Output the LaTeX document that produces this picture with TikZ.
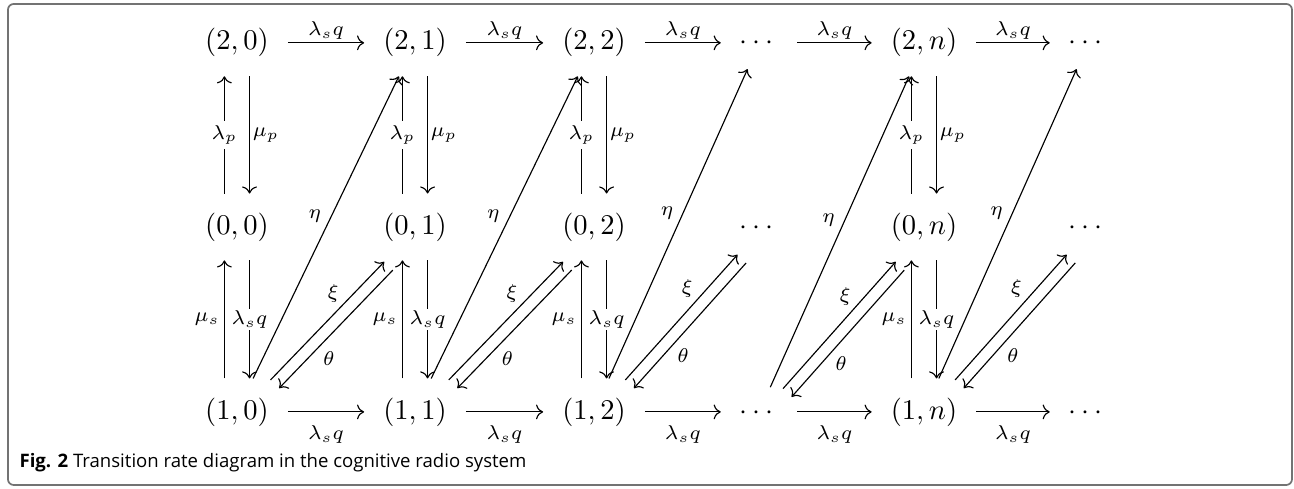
\documentclass[tikz,border=0pt]{standalone}
\usepackage{amsmath,amssymb}
\usepackage{fontspec}
\newfontfamily\capfont{Open Sans}
\usetikzlibrary{arrows.meta}

\begin{document}
\begin{tikzpicture}[
  st/.style={anchor=base, inner sep=6.5pt},
  arr/.style={-{Computer Modern Rightarrow}, line width=0.4pt},
  lbl/.style={font=\scriptsize, inner sep=1pt},
  desc/.style={lbl, fill=white}
]
\useasboundingbox (0,0) rectangle (15.918,6.015);

% Frame
\draw[black!55, line width=0.6pt, rounded corners=2pt] (0.098,0.049) rectangle (15.893,5.966);

% States (2,j)
\node[st] (s20) at (2.915,5.40) {$(2,0)$};
\node[st] (s21) at (5.105,5.40) {$(2,1)$};
\node[st] (s22) at (7.307,5.40) {$(2,2)$};
\node[st] (s2d) at (9.336,5.40) {$\cdots$};
\node[st] (s2n) at (11.366,5.40) {$(2,n)$};
\node[st] (s2e) at (13.383,5.40) {$\cdots$};

% States (0,j)
\node[st] (s00) at (2.915,3.135) {$(0,0)$};
\node[st] (s01) at (5.105,3.135) {$(0,1)$};
\node[st] (s02) at (7.307,3.135) {$(0,2)$};
\node[st] (s0d) at (9.336,3.135) {$\cdots$};
\node[st] (s0n) at (11.366,3.135) {$(0,n)$};
\node[st] (s0e) at (13.383,3.135) {$\cdots$};

% States (1,j)
\node[st] (s10) at (2.915,0.86) {$(1,0)$};
\node[st] (s11) at (5.105,0.86) {$(1,1)$};
\node[st] (s12) at (7.307,0.86) {$(1,2)$};
\node[st] (s1d) at (9.336,0.86) {$\cdots$};
\node[st] (s1n) at (11.366,0.86) {$(1,n)$};
\node[st] (s1e) at (13.383,0.86) {$\cdots$};

% Caption
\node[anchor=base west, inner sep=0pt, font=\capfont\fontsize{6.5}{7.5}\selectfont] (cap) at (0.234,0.264)
  {\textbf{Fig. 2} Transition rate diagram in the cognitive radio system};

% Top row
\draw[arr] ([yshift=2.5pt]s20.base east) -- node[lbl, above] {$\lambda_s q$} ([yshift=2.5pt]s21.base west);
\draw[arr] ([yshift=2.5pt]s21.base east) -- node[lbl, above] {$\lambda_s q$} ([yshift=2.5pt]s22.base west);
\draw[arr] ([yshift=2.5pt]s22.base east) -- node[lbl, above] {$\lambda_s q$} ([yshift=2.5pt]s2d.base west);
\draw[arr] ([yshift=2.5pt]s2d.base east) -- node[lbl, above] {$\lambda_s q$} ([yshift=2.5pt]s2n.base west);
\draw[arr] ([yshift=2.5pt]s2n.base east) -- node[lbl, above] {$\lambda_s q$} ([yshift=2.5pt]s2e.base west);

% Bottom row
\draw[arr] ([yshift=2.5pt]s10.base east) -- node[lbl, below, inner sep=4.5pt] {$\lambda_s q$} ([yshift=2.5pt]s11.base west);
\draw[arr] ([yshift=2.5pt]s11.base east) -- node[lbl, below, inner sep=4.5pt] {$\lambda_s q$} ([yshift=2.5pt]s12.base west);
\draw[arr] ([yshift=2.5pt]s12.base east) -- node[lbl, below, inner sep=4.5pt] {$\lambda_s q$} ([yshift=2.5pt]s1d.base west);
\draw[arr] ([yshift=2.5pt]s1d.base east) -- node[lbl, below, inner sep=4.5pt] {$\lambda_s q$} ([yshift=2.5pt]s1n.base west);
\draw[arr] ([yshift=2.5pt]s1n.base east) -- node[lbl, below, inner sep=4.5pt] {$\lambda_s q$} ([yshift=2.5pt]s1e.base west);

% Column 0
\draw[arr] ([xshift=-4.4pt]s00.north) -- node[desc, inner sep=1.5pt] {$\lambda_p$} ([xshift=-4.4pt]s20.south);
\draw[arr] ([xshift=4.4pt]s20.south) -- node[lbl, right] {$\mu_p$} ([xshift=4.4pt]s00.north);
\draw[arr] ([xshift=-4.4pt]s10.north) -- node[lbl, left, inner sep=1.5pt] {$\mu_s$} ([xshift=-4.4pt]s00.south);
\draw[arr] ([xshift=4.4pt]s00.south) -- node[desc, inner sep=0.5pt] {$\lambda_s q$} ([xshift=4.4pt]s10.north);

% Column 1
\draw[arr] ([xshift=-4.4pt]s01.north) -- node[desc, inner sep=1.5pt] {$\lambda_p$} ([xshift=-4.4pt]s21.south);
\draw[arr] ([xshift=4.4pt]s21.south) -- node[lbl, right] {$\mu_p$} ([xshift=4.4pt]s01.north);
\draw[arr] ([xshift=-4.4pt]s11.north) -- node[lbl, left, inner sep=1.5pt] {$\mu_s$} ([xshift=-4.4pt]s01.south);
\draw[arr] ([xshift=4.4pt]s01.south) -- node[desc, inner sep=0.5pt] {$\lambda_s q$} ([xshift=4.4pt]s11.north);

% Column 2
\draw[arr] ([xshift=-4.4pt]s02.north) -- node[desc, inner sep=1.5pt] {$\lambda_p$} ([xshift=-4.4pt]s22.south);
\draw[arr] ([xshift=4.4pt]s22.south) -- node[lbl, right] {$\mu_p$} ([xshift=4.4pt]s02.north);
\draw[arr] ([xshift=-4.4pt]s12.north) -- node[lbl, left, inner sep=1.5pt] {$\mu_s$} ([xshift=-4.4pt]s02.south);
\draw[arr] ([xshift=4.4pt]s02.south) -- node[desc, inner sep=0.5pt] {$\lambda_s q$} ([xshift=4.4pt]s12.north);

% Column n
\draw[arr] ([xshift=-4.4pt]s0n.north) -- node[desc, inner sep=1.5pt] {$\lambda_p$} ([xshift=-4.4pt]s2n.south);
\draw[arr] ([xshift=4.4pt]s2n.south) -- node[lbl, right] {$\mu_p$} ([xshift=4.4pt]s0n.north);
\draw[arr] ([xshift=-4.4pt]s1n.north) -- node[lbl, left, inner sep=1.5pt] {$\mu_s$} ([xshift=-4.4pt]s0n.south);
\draw[arr] ([xshift=4.4pt]s0n.south) -- node[desc, inner sep=0.5pt] {$\lambda_s q$} ([xshift=4.4pt]s1n.north);

% eta
\draw[arr] (s10) -- node[lbl, above left, inner sep=1.5pt] {$\eta$} (s21);
\draw[arr] (s11) -- node[lbl, above left, inner sep=1.5pt] {$\eta$} (s22);
\draw[arr] (s12) -- node[lbl, above left, inner sep=1.5pt] {$\eta$} (s2d);
\draw[arr] (s1d) -- node[lbl, above left, inner sep=1.5pt] {$\eta$} (s2n);
\draw[arr] (s1n) -- node[lbl, above left, inner sep=1.5pt] {$\eta$} (s2e);

% xi and theta
\draw[arr, transform canvas={shift={(0.5pt,-0.5pt)}}] (s10) -- node[lbl, pos=0.63, above left] {$\xi$} (s01);
\draw[arr, transform canvas={shift={(3.5pt,-3.4pt)}}] (s01) -- node[lbl, pos=0.65, below right, inner sep=1.3pt] {$\theta$} (s10);
\draw[arr, transform canvas={shift={(0.5pt,-0.5pt)}}] (s11) -- node[lbl, pos=0.63, above left] {$\xi$} (s02);
\draw[arr, transform canvas={shift={(3.5pt,-3.4pt)}}] (s02) -- node[lbl, pos=0.65, below right, inner sep=1.3pt] {$\theta$} (s11);
\draw[arr, transform canvas={shift={(0.5pt,-0.5pt)}}] (s12) -- node[lbl, pos=0.63, above left] {$\xi$} (s0d);
\draw[arr, transform canvas={shift={(3.5pt,-3.4pt)}}] (s0d) -- node[lbl, pos=0.65, below right, inner sep=1.3pt] {$\theta$} (s12);
\draw[arr, transform canvas={shift={(0.5pt,-0.5pt)}}] (s1d) -- node[lbl, pos=0.63, above left] {$\xi$} (s0n);
\draw[arr, transform canvas={shift={(3.5pt,-3.4pt)}}] (s0n) -- node[lbl, pos=0.65, below right, inner sep=1.3pt] {$\theta$} (s1d);
\draw[arr, transform canvas={shift={(0.5pt,-0.5pt)}}] (s1n) -- node[lbl, pos=0.63, above left] {$\xi$} (s0e);
\draw[arr, transform canvas={shift={(3.5pt,-3.4pt)}}] (s0e) -- node[lbl, pos=0.65, below right, inner sep=1.3pt] {$\theta$} (s1n);

\end{tikzpicture}
\end{document}
